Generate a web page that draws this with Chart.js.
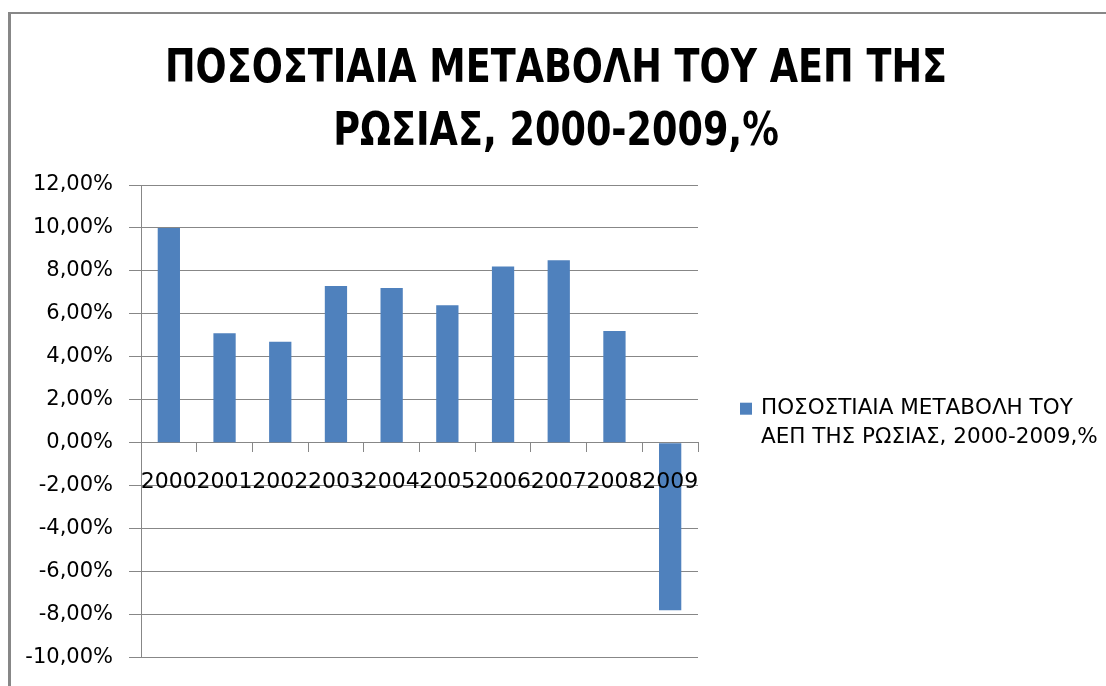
<!DOCTYPE html>
<html>
<head>
<meta charset="utf-8">
<script src="https://cdn.jsdelivr.net/npm/chart.js@4/dist/chart.umd.min.js"></script>
<style>
  html, body { margin: 0; padding: 0; background: #ffffff; }
  #wrap { position: relative; width: 1106px; height: 686px; overflow: hidden; }
  #frame { position: absolute; left: 8px; top: 12px; width: 1200px; height: 800px;
           border-left: 3px solid #878787; border-top: 2px solid #878787; }
  canvas { position: absolute; left: 0; top: 0; }
</style>
</head>
<body>
<div id="wrap">
  <div id="frame"></div>
  <canvas id="c" width="1106" height="686"></canvas>
</div>
<script>
const chartTitle = ['ΠΟΣΟΣΤΙΑΙΑ ΜΕΤΑΒΟΛΗ ΤΟΥ ΑΕΠ ΤΗΣ', 'ΡΩΣΙΑΣ, 2000-2009,%'];
const seriesName = 'ΠΟΣΟΣΤΙΑΙΑ ΜΕΤΑΒΟΛΗ ΤΟΥ ΑΕΠ ΤΗΣ ΡΩΣΙΑΣ, 2000-2009,%';
const years = ['2000', '2001', '2002', '2003', '2004', '2005', '2006', '2007', '2008', '2009'];
const gdpChange = [10.0, 5.1, 4.7, 7.3, 7.2, 6.4, 8.2, 8.5, 5.2, -7.8];
const yTickLabels = ['-10,00%', '-8,00%', '-6,00%', '-4,00%', '-2,00%', '0,00%', '2,00%', '4,00%', '6,00%', '8,00%', '10,00%', '12,00%'];

const BAR = '#4F81BD';
const GRID = '#878787';
const FONT = "'DejaVu Sans', sans-serif";

// Title drawn on the canvas, horizontally condensed to the reference's width
const narrowTitle = {
  id: 'narrowTitle',
  afterDraw(chart, args, opts) {
    const ctx = chart.ctx;
    ctx.save();
    ctx.font = "bold 47px 'DejaVu Sans Condensed', 'DejaVu Sans', sans-serif";
    ctx.fillStyle = '#000000';
    ctx.textAlign = 'center';
    ctx.textBaseline = 'alphabetic';
    const w0 = ctx.measureText(opts.lines[0]).width;
    const f = Math.min(1, opts.firstWidth / w0);
    opts.lines.forEach((l, i) => {
      const w = ctx.measureText(l).width * f;
      ctx.fillText(l, opts.centerX, opts.baseline + i * opts.lineHeight, w);
    });
    ctx.restore();
  }
};

const sideLegend = {
  id: 'sideLegend',
  afterDraw(chart) {
    const ctx = chart.ctx;
    const area = chart.chartArea;
    const ds = chart.data.datasets[0];
    ctx.save();
    ctx.font = "21.5px " + FONT;
    const maxW = 350;
    const words = ds.label.split(' ');
    const lines = [];
    let cur = '';
    for (const w of words) {
      const t = cur ? cur + ' ' + w : w;
      if (ctx.measureText(t).width > maxW && cur) { lines.push(cur); cur = w; } else { cur = t; }
    }
    if (cur) lines.push(cur);
    const lh = 29;
    const cy = (area.top + area.bottom) / 2;
    const y0 = cy - (lines.length - 1) * lh / 2 + 2;
    const bx = area.right + 42;
    ctx.fillStyle = ds.backgroundColor;
    ctx.fillRect(bx, y0 - 6, 12, 12);
    ctx.fillStyle = '#000000';
    ctx.textBaseline = 'middle';
    ctx.textAlign = 'left';
    lines.forEach((l, i) => ctx.fillText(l, bx + 21, y0 + i * lh));
    ctx.restore();
  }
};

new Chart(document.getElementById('c'), {
  type: 'bar',
  data: {
    labels: years,
    datasets: [{
      label: seriesName,
      data: gdpChange,
      backgroundColor: BAR,
      borderWidth: 0,
      categoryPercentage: 1.0,
      barPercentage: 0.4
    }]
  },
  options: {
    responsive: false,
    animation: false,
    layout: { padding: { left: 0, right: 0, top: 185, bottom: 20 } },
    plugins: {
      legend: { display: false },
      tooltip: { enabled: false },
      title: { display: false },
      narrowTitle: { lines: chartTitle, centerX: 556, baseline: 82, lineHeight: 63, firstWidth: 782 }
    },
    scales: {
      x: {
        position: { y: 0 },
        offset: true,
        afterFit(scale) { scale.height = 0; },
        grid: { drawOnChartArea: false, drawTicks: true, tickLength: 9, color: GRID, offset: true },
        border: { display: true, color: GRID, width: 1 },
        ticks: { z: 1, color: '#000000', font: { family: FONT, size: 22 }, padding: 17, maxRotation: 0, autoSkip: false }
      },
      y: {
        min: -10,
        max: 12,
        afterFit(scale) { scale.width = 141; },
        grid: { color: GRID, lineWidth: 1, drawTicks: true, tickLength: 12 },
        border: { display: true, color: GRID, width: 1 },
        ticks: {
          stepSize: 2,
          color: '#000000',
          font: { family: FONT, size: 21 },
          padding: 16,
          callback: (v, i) => yTickLabels[i]
        }
      },
      legendSpace: {
        type: 'linear',
        position: 'right',
        display: true,
        afterFit(scale) { scale.width = 408; },
        grid: { display: false, drawOnChartArea: false },
        border: { display: false },
        ticks: { display: false }
      }
    }
  },
  plugins: [narrowTitle, sideLegend]
});
</script>
</body>
</html>
